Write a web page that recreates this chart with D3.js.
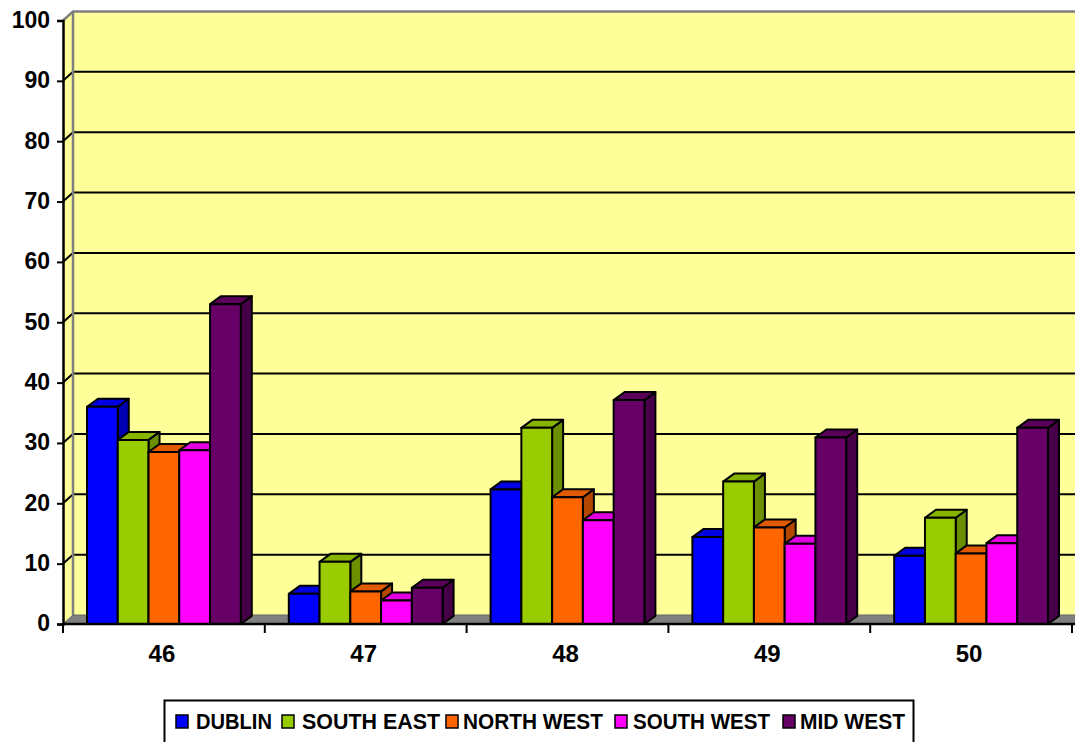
<!DOCTYPE html>
<html>
<head>
<meta charset="utf-8">
<script src="https://cdn.jsdelivr.net/npm/d3@7"></script>
<style>
  html, body { margin: 0; padding: 0; background: #ffffff; }
  svg { display: block; }
  text { font-family: "Liberation Sans", Arial, sans-serif; font-weight: bold; fill: #000; }
</style>
</head>
<body>
<svg id="chart" width="1075" height="742"></svg>
<script>
// ---- Data ----
const categories = ["46", "47", "48", "49", "50"];
const seriesNames = ["DUBLIN", "SOUTH EAST", "NORTH WEST", "SOUTH WEST", "MID WEST"];
const dublin    = [36.0, 5.0, 22.3, 14.4, 11.3];
const southEast = [30.5, 10.3, 32.5, 23.6, 17.6];
const northWest = [28.5, 5.4, 21.0, 16.0, 11.7];
const southWest = [28.8, 3.9, 17.2, 13.3, 13.4];
const midWest   = [53.0, 6.0, 37.1, 30.9, 32.5];
const yTicks = [0, 10, 20, 30, 40, 50, 60, 70, 80, 90, 100];
const seriesColors = ["#0000FF", "#99CC00", "#FF6600", "#FF00FF", "#660066"];

const seriesValues = [dublin, southEast, northWest, southWest, midWest];

// ---- Layout ----
const svg = d3.select("#chart");
const x0 = 63, x1 = 1072;        // front plane x-extent
const yFront0 = 624, yFront100 = 20.5;
const wallDX = 10, wallDY = 9;    // depth of walls
const barDX = 11, barDY = 8;      // depth of bars

const y = d3.scaleLinear().domain([0, 100]).range([yFront0, yFront100]);
const xCat = d3.scaleBand().domain(categories).range([x0, x1]).padding(0);
const xSer = d3.scaleBand().domain(seriesNames)
  .range([24, xCat.bandwidth() - 24]).padding(0);

const wallFill = "#FFFF99";
const gray = "#808080";

// Back wall
svg.append("rect")
  .attr("x", x0 + wallDX).attr("y", y(100) - wallDY)
  .attr("width", 1100 - (x0 + wallDX)).attr("height", y(0) - y(100))
  .attr("fill", wallFill);
// Side wall
svg.append("polygon")
  .attr("points", [[x0, y(100)], [x0 + wallDX, y(100) - wallDY], [x0 + wallDX, y(0) - wallDY], [x0, y(0)]].join(" "))
  .attr("fill", wallFill);

// Gridlines (back wall + side wall)
const grid = svg.append("g");
yTicks.filter(t => t > 0 && t < 100).forEach(t => {
  grid.append("polyline")
    .attr("points", [[x0, y(t)], [x0 + wallDX, y(t) - wallDY], [1100, y(t) - wallDY]].join(" "))
    .attr("fill", "none").attr("stroke", "#000").attr("stroke-width", 2);
});
// wall edges (gray)
svg.append("polyline")
  .attr("points", [[x0, y(100)], [x0 + wallDX, y(100) - wallDY], [1100, y(100) - wallDY]].join(" "))
  .attr("fill", "none").attr("stroke", gray).attr("stroke-width", 2.5);
svg.append("line")
  .attr("x1", x0 + wallDX).attr("x2", x0 + wallDX)
  .attr("y1", y(100) - wallDY).attr("y2", y(0) - wallDY)
  .attr("stroke", gray).attr("stroke-width", 2.5);

// Floor
svg.append("polygon")
  .attr("points", [[x0, y(0)], [x0 + wallDX, y(0) - wallDY], [1100, y(0) - wallDY], [1100, y(0)]].join(" "))
  .attr("fill", gray).attr("stroke", "#666").attr("stroke-width", 1);

// Bars
const bars = svg.append("g");
categories.forEach((c, ci) => {
  seriesNames.forEach((s, si) => {
    const v = seriesValues[si][ci];
    const bx0 = xCat(c) + xSer(s);
    const bx1 = bx0 + xSer.bandwidth();
    const yt = y(v), yb = y(0);
    const col = d3.color(seriesColors[si]);
    const topCol = col.darker(0.35);
    const sideCol = col.darker(1.0);
    const g = bars.append("g").attr("stroke", "#000").attr("stroke-width", 2).attr("stroke-linejoin", "round");
    // side face
    g.append("polygon")
      .attr("points", [[bx1, yt], [bx1 + barDX, yt - barDY], [bx1 + barDX, yb - barDY], [bx1, yb]].join(" "))
      .attr("fill", sideCol);
    // top face
    g.append("polygon")
      .attr("points", [[bx0, yt], [bx0 + barDX, yt - barDY], [bx1 + barDX, yt - barDY], [bx1, yt]].join(" "))
      .attr("fill", topCol);
    // front face
    g.append("rect")
      .attr("x", bx0).attr("y", yt).attr("width", bx1 - bx0).attr("height", yb - yt)
      .attr("fill", col);
  });
});

// Y axis (front)
const yAxis = d3.axisLeft(y).tickValues(yTicks).tickSize(6).tickPadding(7).tickFormat(d3.format("d"));
const gy = svg.append("g").attr("transform", `translate(${x0},0)`).call(yAxis);
gy.select(".domain").attr("stroke", "#000").attr("stroke-width", 2.5);
gy.selectAll(".tick line").attr("stroke", "#000").attr("stroke-width", 2);
gy.selectAll(".tick text").style("font-size", "23px").style("font-weight", "bold")
  .style("font-family", '"Liberation Sans", Arial, sans-serif').attr("fill", "#000").attr("dy", "0.3em");

// X axis (front)
const gx = svg.append("g").attr("transform", `translate(0,${y(0)})`);
gx.append("line").attr("x1", x0).attr("x2", 1075).attr("y1", 0).attr("y2", 0)
  .attr("stroke", "#000").attr("stroke-width", 2.5);
const tickXs = categories.map(c => xCat(c)).concat([x1]);
gx.selectAll("line.tk").data(tickXs).join("line").attr("class", "tk")
  .attr("x1", d => d).attr("x2", d => d).attr("y1", 0).attr("y2", 9)
  .attr("stroke", "#000").attr("stroke-width", 2);
gx.selectAll("text").data(categories).join("text")
  .attr("x", d => xCat(d) + xCat.bandwidth() / 2 - 2)
  .attr("y", 38)
  .attr("text-anchor", "middle")
  .style("font-size", "24px")
  .text(d => d);

// Legend
const legend = svg.append("g");
legend.append("rect").attr("x", 164.5).attr("y", 700.5).attr("width", 749).attr("height", 60)
  .attr("fill", "#fff").attr("stroke", "#000").attr("stroke-width", 2);
const legendSwatchX = [176, 282, 446, 615, 783];
const legendTextX = [196, 302, 463, 633, 800];
const legendTextW = [76, 138, 140, 137, 105];
seriesNames.forEach((s, i) => {
  legend.append("rect").attr("x", legendSwatchX[i]).attr("y", 715).attr("width", 12).attr("height", 13)
    .attr("fill", seriesColors[i]).attr("stroke", "#000").attr("stroke-width", 1.5);
  legend.append("text").attr("x", legendTextX[i]).attr("y", 729)
    .style("font-size", "22px")
    .attr("textLength", legendTextW[i]).attr("lengthAdjust", "spacingAndGlyphs")
    .text(s);
});
</script>
</body>
</html>
